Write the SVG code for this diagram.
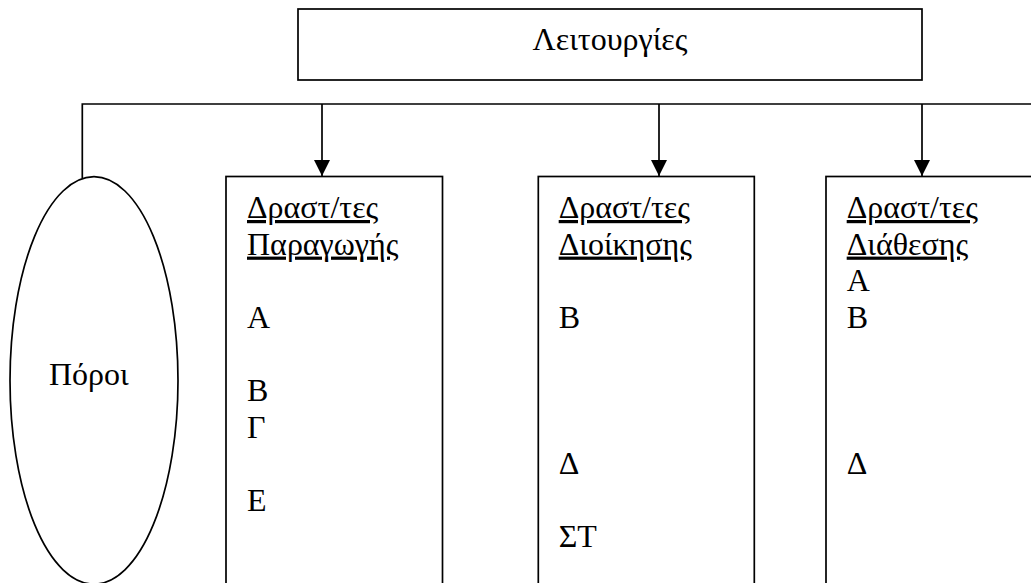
<svg xmlns="http://www.w3.org/2000/svg" width="1031" height="583" viewBox="0 0 1031 583">
  <style>
    .shape { fill: #fff; stroke: #000; stroke-width: 1.7; }
    .line { fill: none; stroke: #000; stroke-width: 1.7; }
    .label { font-family: "Liberation Serif", "Times New Roman", serif; font-size: 32px; fill: #000; }
    .head { text-decoration: underline; }
  </style>
  <defs>
    <marker id="arrow" markerUnits="userSpaceOnUse" markerWidth="18" markerHeight="16" refX="16" refY="8" orient="auto">
      <path d="M0,0 L16,8 L0,16 Z" fill="#000"/>
    </marker>
  </defs>

  <rect width="1031" height="583" fill="#fff"/>

  <!-- top node -->
  <g id="functions">
    <rect class="shape" x="298" y="9" width="624" height="71"/>
    <text class="label" x="610" y="50" text-anchor="middle">Λειτουργίες</text>
  </g>

  <!-- connectors: bus line from the functions level down to each column -->
  <g id="connectors">
    <polyline class="line" points="82.3,178.5 82.3,104 1031,104"/>
    <line class="line" x1="322" y1="104" x2="322" y2="176" marker-end="url(#arrow)"/>
    <line class="line" x1="659" y1="104" x2="659" y2="176" marker-end="url(#arrow)"/>
    <line class="line" x1="922" y1="104" x2="922" y2="176" marker-end="url(#arrow)"/>
  </g>

  <!-- resources -->
  <g id="resources">
    <ellipse class="shape" cx="94" cy="380.4" rx="84" ry="203.7"/>
    <text class="label" x="49" y="385">Πόροι</text>
  </g>

  <!-- production activities -->
  <g id="production">
    <rect class="shape" x="226" y="176.5" width="216.5" height="420"/>
    <text class="label" x="247">
      <tspan class="head" x="247" y="218">Δραστ/τες</tspan>
      <tspan class="head" x="247" y="254.6">Παραγωγής</tspan>
      <tspan x="247" y="327.8">Α</tspan>
      <tspan x="247" y="401">Β</tspan>
      <tspan x="247" y="437.6">Γ</tspan>
      <tspan x="247" y="510.8">Ε</tspan>
    </text>
  </g>

  <!-- administration activities -->
  <g id="administration">
    <rect class="shape" x="538.3" y="176.5" width="216" height="420"/>
    <text class="label" x="558.7">
      <tspan class="head" x="558.7" y="218">Δραστ/τες</tspan>
      <tspan class="head" x="558.7" y="254.6">Διοίκησης</tspan>
      <tspan x="558.7" y="327.8">Β</tspan>
      <tspan x="558.7" y="474.2">Δ</tspan>
      <tspan x="558.7" y="547.4">ΣΤ</tspan>
    </text>
  </g>

  <!-- distribution activities -->
  <g id="distribution">
    <rect class="shape" x="826" y="176.5" width="240" height="420"/>
    <text class="label" x="846.7">
      <tspan class="head" x="846.7" y="218">Δραστ/τες</tspan>
      <tspan class="head" x="846.7" y="254.6">Διάθεσης</tspan>
      <tspan x="846.7" y="291.2">Α</tspan>
      <tspan x="846.7" y="327.8">Β</tspan>
      <tspan x="846.7" y="474.2">Δ</tspan>
    </text>
  </g>
</svg>
